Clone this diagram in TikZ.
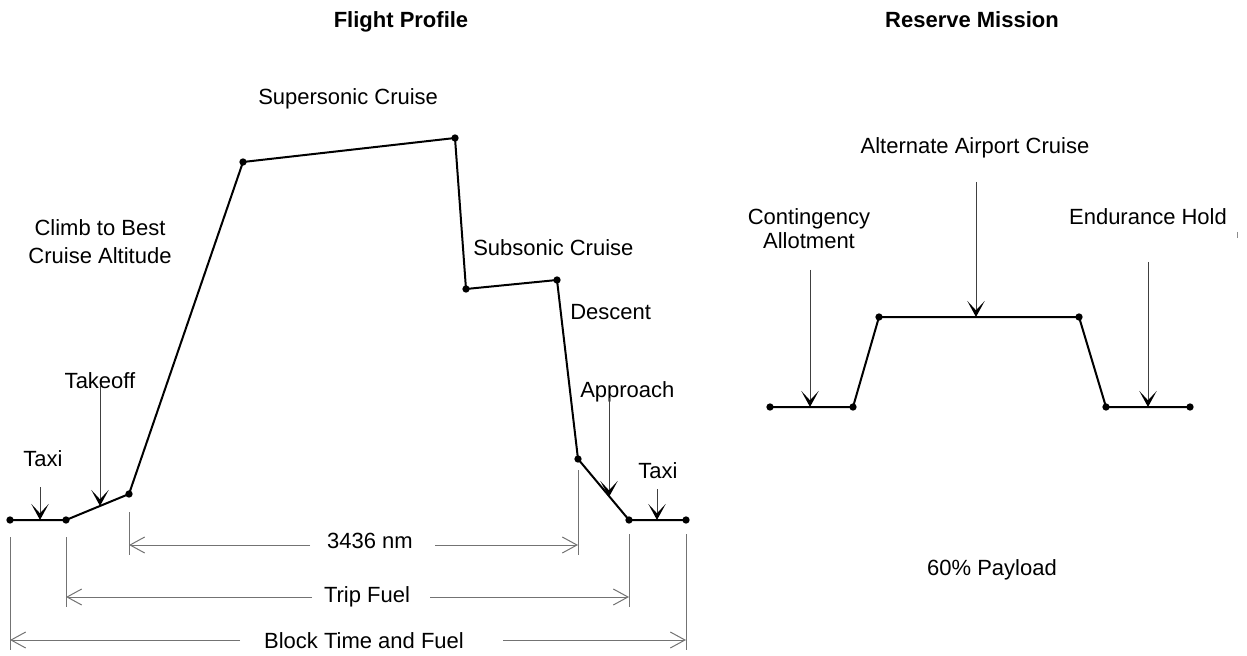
\documentclass[tikz,border=0pt]{standalone}
\usepackage{fontspec}
\setmainfont{Liberation Sans}
\usetikzlibrary{arrows.meta}
\begin{document}
\begin{tikzpicture}[x=0.75pt,y=-0.75pt,
  prof/.style={line width=1.5pt, line join=round},
  dot/.style={circle, fill=black, inner sep=0pt, minimum size=5.5pt},
  pointer/.style={line width=0.75pt, draw=black!75, -{Stealth[length=12pt,width=13pt,inset=7pt,line width=1.4pt,color=black]}},
  dim/.style={line width=0.75pt, draw=black!55, -{Straight Barb[length=11pt,width=12pt]}},
  ext/.style={line width=0.75pt, draw=black!55},
  lbl/.style={font=\fontsize{16.5}{19}\selectfont, inner sep=0pt, align=center, anchor=base},
  ttl/.style={font=\fontsize{16.5}{19}\selectfont\bfseries, inner sep=0pt, anchor=base}
]
\useasboundingbox (0,0) rectangle (1247,656);

% ---------------- Flight profile ----------------
\node[dot] (a1) at (10,520) {};
\node[dot] (a2) at (66,520) {};
\node[dot] (a3) at (129,494) {};
\node[dot] (a4) at (243,162) {};
\node[dot] (a5) at (455,138) {};
\node[dot] (a6) at (466,289) {};
\node[dot] (a7) at (557,280) {};
\node[dot] (a8) at (578,459) {};
\node[dot] (a9) at (629,520) {};
\node[dot] (a10) at (686,520) {};
\draw[prof] (a1.center) -- (a2.center) -- (a3.center) -- (a4.center) -- (a5.center)
  -- (a6.center) -- (a7.center) -- (a8.center) -- (a9.center) -- (a10.center);

% titles and labels
\node[ttl] (tfp) at (401,28) {Flight Profile};
\node[ttl] (trm) at (972,28) {Reserve Mission};
\node[lbl, anchor=base west] (lsup) at (258,105) {Supersonic Cruise};
\node[lbl, font=\fontsize{16.5}{21}\selectfont, anchor=base] (lclimb) at (100,264) {Climb to Best\\Cruise Altitude};
\node[lbl, anchor=base west] (lsub) at (473,256) {Subsonic Cruise};
\node[lbl, anchor=base west] (ldes) at (570,320) {Descent};
\node[lbl] (ltko) at (100,388) {Takeoff};
\node[lbl] (ltx1) at (43,466) {Taxi};
\node[lbl, anchor=base west] (lapp) at (580,397) {Approach};
\node[lbl] (ltx2) at (658,478) {Taxi};

% pointer arrows
\coordinate (p1s) at (40,487);  \coordinate (p1e) at (40,520);
\coordinate (p2s) at (100,385); \coordinate (p2e) at (100,506);
\coordinate (p3s) at (609,398); \coordinate (p3e) at (609,497);
\coordinate (p4s) at (657,489); \coordinate (p4e) at (657,520);
\draw[pointer] (p1s) -- (p1e);
\draw[pointer] (p2s) -- (p2e);
\draw[pointer] (p3s) -- (p3e);
\draw[pointer] (p4s) -- (p4e);

% extension lines
\coordinate (x1t) at (10,537);  \coordinate (x1b) at (10,650);
\coordinate (x2t) at (66,537);  \coordinate (x2b) at (66,607);
\coordinate (x3t) at (129,512); \coordinate (x3b) at (129,555);
\coordinate (x4t) at (578,470); \coordinate (x4b) at (578,555);
\coordinate (x5t) at (629,534); \coordinate (x5b) at (629,607);
\coordinate (x6t) at (686,534); \coordinate (x6b) at (686,650);
\foreach \i in {1,...,6} \draw[ext] (x\i t) -- (x\i b);

% dimension lines
\node[lbl] (d1) at (370,548) {3436 nm};
\node[lbl] (d2) at (367,602) {Trip Fuel};
\node[lbl] (d3) at (364,648) {Block Time and Fuel};
\coordinate (d1l) at (310,545); \coordinate (d1le) at (129,545);
\coordinate (d1r) at (435,545); \coordinate (d1re) at (578,545);
\coordinate (d2l) at (312,597); \coordinate (d2le) at (66,597);
\coordinate (d2r) at (430,597); \coordinate (d2re) at (629,597);
\coordinate (d3l) at (240,640); \coordinate (d3le) at (10,640);
\coordinate (d3r) at (503,640); \coordinate (d3re) at (686,640);
\draw[dim] (d1l) -- (d1le);
\draw[dim] (d1r) -- (d1re);
\draw[dim] (d2l) -- (d2le);
\draw[dim] (d2r) -- (d2re);
\draw[dim] (d3l) -- (d3le);
\draw[dim] (d3r) -- (d3re);

% ---------------- Reserve mission ----------------
\node[dot] (b1) at (770,407) {};
\node[dot] (b2) at (853,407) {};
\node[dot] (b3) at (879,317) {};
\node[dot] (b4) at (1079,317) {};
\node[dot] (b5) at (1106,407) {};
\node[dot] (b6) at (1190,407) {};
\draw[prof] (b1.center) -- (b2.center) -- (b3.center) -- (b4.center) -- (b5.center) -- (b6.center);

\node[lbl, font=\fontsize{16.5}{17.5}\selectfont] (lcont) at (809,248) {Contingency\\Allotment};
\node[lbl] (lalt) at (975,154) {Alternate Airport Cruise};
\node[lbl] (lend) at (1148,225) {Endurance Hold};
\node[lbl] (lpay) at (992,575) {60\% Payload};

\coordinate (r1s) at (810,270);  \coordinate (r1e) at (810,407);
\coordinate (r2s) at (976,182);  \coordinate (r2e) at (976,317);
\coordinate (r3s) at (1148,262); \coordinate (r3e) at (1148,407);
\draw[pointer] (r1s) -- (r1e);
\draw[pointer] (r2s) -- (r2e);
\draw[pointer] (r3s) -- (r3e);

% small stray tick
\coordinate (tk1) at (1237.5,232); \coordinate (tk2) at (1237.5,238);
\draw[line width=1.4pt, black!45] (tk1) -- (tk2);
\end{tikzpicture}
\end{document}
